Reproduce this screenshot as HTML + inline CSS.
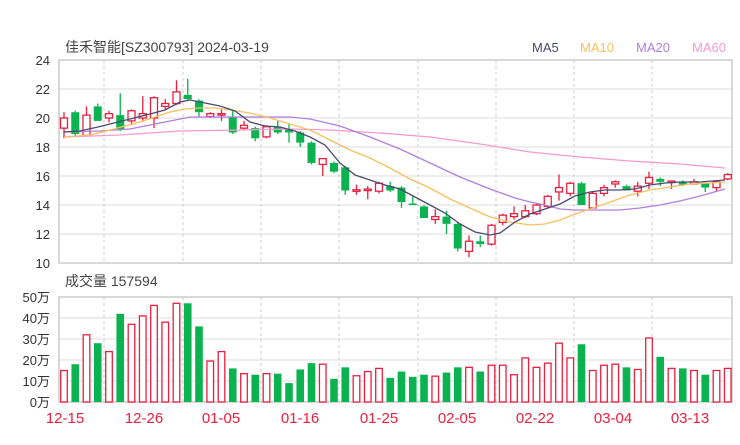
<!DOCTYPE html>
<html><head><meta charset="utf-8"><style>
body{margin:0;background:#fff;}
svg text{font-family:"Liberation Sans","Noto Sans CJK SC",sans-serif;}
</style></head><body>
<svg id="s" width="740" height="440" xmlns="http://www.w3.org/2000/svg"></svg>
<script>
const s=document.getElementById('s');let h='';
const L=59,R=732,T=60,B=263,VT=297,VB=402;
const py=p=>T+(24-p)*14.5;
const vy=v=>VB-v*2.1;
// grids
for(let p=10;p<=24;p+=2){const y=py(p);h+=`<line x1="${L}" x2="${R}" y1="${y}" y2="${y}" stroke="#ddd"/>`;h+=`<text x="50" y="${y+5}" font-size="13" fill="#333" text-anchor="end">${p}</text>`;}
for(let v=0;v<=50;v+=10){const y=vy(v);h+=`<line x1="${L}" x2="${R}" y1="${y}" y2="${y}" stroke="#ddd"/>`;h+=`<text x="50" y="${y+5}" font-size="13" fill="#333" text-anchor="end">${v}万</text>`;}
[104,183,261,339,418,496,574,652].forEach(x=>{h+=`<line x1="${x}" x2="${x}" y1="${T}" y2="${B}" stroke="#ccc" stroke-dasharray="3,3"/><line x1="${x}" x2="${x}" y1="${VT}" y2="${VB}" stroke="#ccc" stroke-dasharray="3,3"/>`;});
h+=`<rect x="${L}" y="${T}" width="${R-L}" height="${B-T}" fill="none" stroke="#ccc" stroke-width="1.5"/>`;
h+=`<rect x="${L}" y="${VT}" width="${R-L}" height="${VB-VT}" fill="none" stroke="#ccc" stroke-width="1.5"/>`;
// candles [open,close,high,low]
const C=[[19.3,20,20.4,18.6],[20.4,18.9,20.5,18.8],[18.8,20.2,20.8,18.8],[20.8,19.8,21,19.8],[20,20.3,20.5,19.7],[20.2,19.2,21.7,19.1],[19.8,20.5,20.6,19.5],[20,20.3,21.5,19.8],[20,21.4,21.5,19.3],[20.8,21,21.3,20.6],
[21,21.8,22.6,20.9],[21.6,21.3,22.7,21.2],[21.2,20.4,21.3,20.1],[20.1,20.3,20.4,20],[20.2,20.3,20.6,19.8],[20.1,19,20.5,18.9],[19.3,19.5,19.8,19.2],[19.3,18.6,19.4,18.4],[18.7,19.4,19.5,18.6],[19.4,19,19.8,18.9],
[19.2,19,19.6,18.3],[19,18.3,19.1,18.0],[18.3,16.9,18.4,16.8],[16.8,17.2,17.2,16],[16.9,16.3,17,16.2],[16.6,15,16.7,14.7],[15,15.05,15.4,14.7],[15,15.1,15.3,14.4],[14.95,15.5,15.6,14.8],[15.3,15,15.6,14.9],
[15.2,14.2,15.3,13.8],[14.1,14,14.6,14],[13.9,13.1,14,13.1],[13,13.2,13.7,12.7],[13.2,12.7,13.6,12],[12.7,11,12.8,10.8],[10.8,11.5,11.9,10.4],[11.5,11.3,11.9,11.1],[11.3,12.6,12.7,11.2],[12.8,13.3,13.4,12.6],
[13.2,13.4,13.9,13],[13.2,13.6,14,13.1],[13.4,14,14.1,13.3],[13.9,14.6,14.7,13.8],[14.9,15.2,16.1,14.3],[14.8,15.5,15.6,14.6],[15.5,14,15.6,14],[13.8,14.8,14.9,13.8],[14.8,15.2,15.4,14.6],[15.45,15.6,15.7,15.2],
[15.3,15,15.4,15],[14.95,15.3,15.6,14.6],[15.5,15.9,16.3,15.1],[15.8,15.6,15.9,15.3],[15.6,15.65,15.7,15.1],[15.6,15.4,15.7,15.3],[15.45,15.6,15.8,15.4],[15.5,15.2,15.5,14.9],[15.2,15.6,15.7,14.9],[15.8,16.1,16.2,15.7]];
const V=[15,18,32,28,24,42,37,41,46,38,47,47,36,19.5,24,16,13.5,13,13.5,13.5,9,15.5,18.5,18,11,16.5,12.5,14.5,16,11.5,14.5,12,13,12.3,14,16.5,16.5,14.5,17.5,17.5,13,21,16.5,18.5,28,21,27.5,15,17.5,18,16.5,15.5,30.5,21.5,16,16,15,13,15,16];
const RED='#e8203f',GRN='#0ab34f';
C.forEach((c,i)=>{const x=64+i*11.25;const up=c[1]>=c[0];const col=up?RED:GRN;
const top=py(Math.max(c[0],c[1])),bot=py(Math.min(c[0],c[1]));const hh=Math.max(bot-top,1.5);
h+=`<line x1="${x}" x2="${x}" y1="${py(c[2])}" y2="${top}" stroke="${col}" stroke-width="1.3"/><line x1="${x}" x2="${x}" y1="${top+hh}" y2="${py(c[3])}" stroke="${col}" stroke-width="1.3"/>`;
h+= up?`<rect x="${x-3.5}" y="${top}" width="7" height="${hh}" fill="#fff" stroke="${col}" stroke-width="1.3"/>`:`<rect x="${x-4}" y="${top}" width="8" height="${hh}" fill="${col}"/>`;
const vv=vy(V[i]);
h+= up?`<rect x="${x-3.3}" y="${vv}" width="6.6" height="${VB-vv}" fill="#fff" stroke="${col}" stroke-width="1.3"/>`:`<rect x="${x-3.8}" y="${vv}" width="7.6" height="${VB-vv}" fill="${col}"/>`;});
const poly=(pts,col)=>{h+=`<polyline fill="none" stroke="${col}" stroke-width="1.3" points="${pts.map(p=>p.join(',')).join(' ')}"/>`;};
poly([[64,137],[120,135],[180,131],[240,130],[290,129],[330,130],[380,133],[430,137],[480,144],[530,152],[580,157],[630,161],[680,164],[725,168]],'#f59ad0');
poly([[64,132],[100,131],[130,129],[160,123],[190,117],[210,117],[240,117],[270,117],[290,117],[310,119],[340,126],[370,137],[400,149],[430,163],[460,177],[490,189],[515,198],[530,202],[545,205],[560,209],[575,210],[600,210],[620,210],[640,208],[660,205],[680,201],[700,196],[725,189]],'#b27ee0');
poly([[64,137],[90,135],[110,130],[140,122],[170,112],[185,109],[200,108],[215,108],[230,110],[250,113],[270,118],[290,124],[310,130],[330,140],[350,150],[370,158],[390,168],[410,179],[430,188],[450,199],[470,208],[490,217],[510,222],[530,225],[545,224],[560,220],[575,214],[590,209],[610,202],[630,195],[650,190],[670,187],[690,184],[710,183],[725,182]],'#f8c060');
poly([[64,132],[80,131],[98,127],[110,124],[130,119],[150,114],[165,110],[180,102],[190,100],[205,103],[220,106],[235,111],[250,122],[265,126],[280,127],[295,131],[310,137],[325,145],[340,163],[355,175],[370,180],[385,185],[400,189],[415,197],[430,205],[445,213],[460,224],[475,232],[490,235],[500,233],[515,222],[530,214],[545,209],[560,204],[575,196],[590,192],[605,190],[620,190],[635,189],[650,185],[665,183],[680,182],[700,182],[725,180]],'#4a4a6e');
h+=`<text x="65" y="52" font-size="14" fill="#444">佳禾智能[SZ300793] 2024-03-19</text>`;
[['MA5',532,'#4a4a6e'],['MA10',580,'#f8c060'],['MA20',636,'#b27ee0'],['MA60',692,'#f59ad0']].forEach(a=>{h+=`<text x="${a[1]}" y="52" font-size="13" fill="${a[2]}">${a[0]}</text>`;});
h+=`<text x="65" y="286" font-size="14" fill="#444">成交量 157594</text>`;
[['12-15',65],['12-26',144],['01-05',221],['01-16',300],['01-25',379],['02-05',457],['02-22',535],['03-04',613],['03-13',690]].forEach(a=>{h+=`<text x="${a[1]}" y="423" font-size="15" fill="${RED}" text-anchor="middle">${a[0]}</text>`;});
s.innerHTML=h;
</script>
</body></html>
